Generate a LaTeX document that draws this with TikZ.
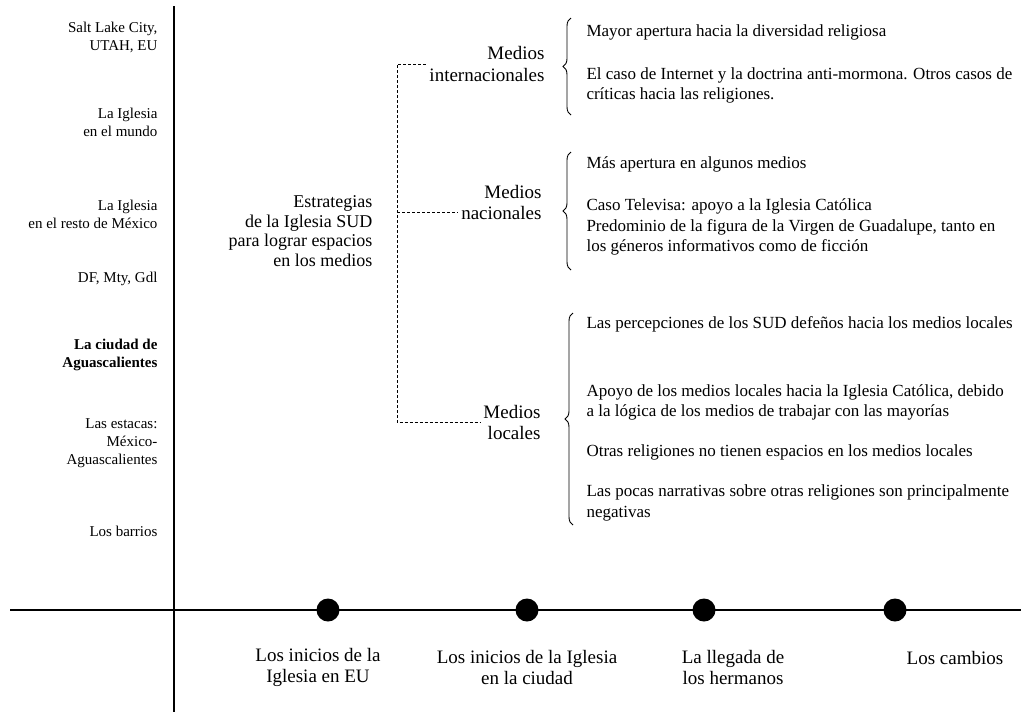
\documentclass[tikz,border=0pt]{standalone}
\usepackage{fontspec}
\setmainfont{Liberation Serif}
\usetikzlibrary{positioning, decorations.pathreplacing}

\begin{document}
\begin{tikzpicture}[x=1pt, y=-1pt, every node/.style={font=\fontsize{17}{20.5}\selectfont}]

	\tikzstyle{axis} = [draw, line width=1.2pt]
	\tikzstyle{dashline} = [draw, line width=0.9pt, dash pattern=on 3pt off 2pt]
	\tikzstyle{brace} = [draw, line width=0.9pt, decorate, decoration={brace, amplitude=8pt}]
	\tikzstyle{place} = [anchor=east, align=right, font=\fontsize{15}{18}\selectfont]
	\tikzstyle{medio} = [anchor=east, align=right, font=\fontsize{19}{21.5}\selectfont]
	\tikzstyle{item} = [anchor=west, align=left]
	\tikzstyle{event} = [circle, fill=black, inner sep=0pt, minimum size=23pt]
	\tikzstyle{eventlabel} = [align=center, font=\fontsize{19}{21}\selectfont]

	\useasboundingbox (0,0) rectangle (1021,716);

	\coordinate (vtop) at (174,6);
	\coordinate (vbot) at (174,712);
	\coordinate (hleft) at (10,610);
	\coordinate (hright) at (1021,610);

	\node [place] (slc) at (161,37) {Salt Lake City,\\UTAH, EU};
	\node [place] (mundo) at (161,122) {La Iglesia\\en el mundo};
	\node [place] (mexico) at (161,214) {La Iglesia\\en el resto de México};
	\node [place] (df) at (161,279) {DF, Mty, Gdl};
	\node [place, font=\fontsize{15}{18}\selectfont\bfseries] (ags) at (161,355) {La ciudad de\\Aguascalientes};
	\node [place] (estacas) at (161,443) {Las estacas:\\México-\\Aguascalientes};
	\node [place] (barrios) at (161,531) {Los barrios};

	\node [medio, font=\fontsize{18}{19.5}\selectfont] (estrategias) at (376,231) {Estrategias\\de la Iglesia SUD\\para lograr espacios\\en los medios};
	\node [medio] (intl) at (548,64) {Medios\\internacionales};
	\node [medio] (nac) at (545,202.5) {Medios\\nacionales};
	\node [medio] (loc) at (544,422.5) {Medios\\locales};
	\coordinate (stem) at (397,0);

	\node [item] (i1) at (583,32) {Mayor apertura hacia la diversidad religiosa};
	\node [item] (i2) at (583,85.5) {El caso de Internet y la doctrina anti-mormona. Otros casos de\\críticas hacia las religiones.};
	\node [item] (n1) at (583,164) {Más apertura en algunos medios};
	\node [item] (n2) at (583,227) {Caso Televisa: apoyo a la Iglesia Católica\\Predominio de la figura de la Virgen de Guadalupe, tanto en\\los géneros informativos como de ficción};
	\node [item] (l1) at (583,324) {Las percepciones de los SUD defeños hacia los medios locales};
	\node [item] (l2) at (583,402.5) {Apoyo de los medios locales hacia la Iglesia Católica, debido\\a la lógica de los medios de trabajar con las mayorías};
	\node [item] (l3) at (583,452) {Otras religiones no tienen espacios en los medios locales};
	\node [item] (l4) at (583,503) {Las pocas narrativas sobre otras religiones son principalmente\\negativas};

	\node [event] (e1) at (328,610) {};
	\node [event] (e2) at (527,610) {};
	\node [event] (e3) at (704,610) {};
	\node [event] (e4) at (895,610) {};
	\node [eventlabel, below=46pt of e1, xshift=-10pt, anchor=center] (t1) {Los inicios de la\\Iglesia en EU};
	\node [eventlabel, below=46pt of e2, anchor=center] (t2) {Los inicios de la Iglesia\\en la ciudad};
	\node [eventlabel, below=46pt of e3, xshift=29pt, anchor=center] (t3) {La llegada de\\los hermanos};
	\node [eventlabel, below=36pt of e4, xshift=60pt, anchor=center] (t4) {Los cambios};

	\path [axis] (vtop) -- (vbot);
	\path [axis] (hleft) -- (hright);

	\path [dashline] (intl.west) -- (intl.west -| stem) -- (loc.west -| stem) -- (loc.west);
	\path [dashline] ([yshift=-9.5pt]nac.west -| stem) -- ([yshift=-9.5pt]nac.west);

	\path [brace] (571,115) -- (571,18);
	\path [brace] (571,270) -- (571,152);
	\path [brace] (573,525) -- (573,313);
\end{tikzpicture}
\end{document}
